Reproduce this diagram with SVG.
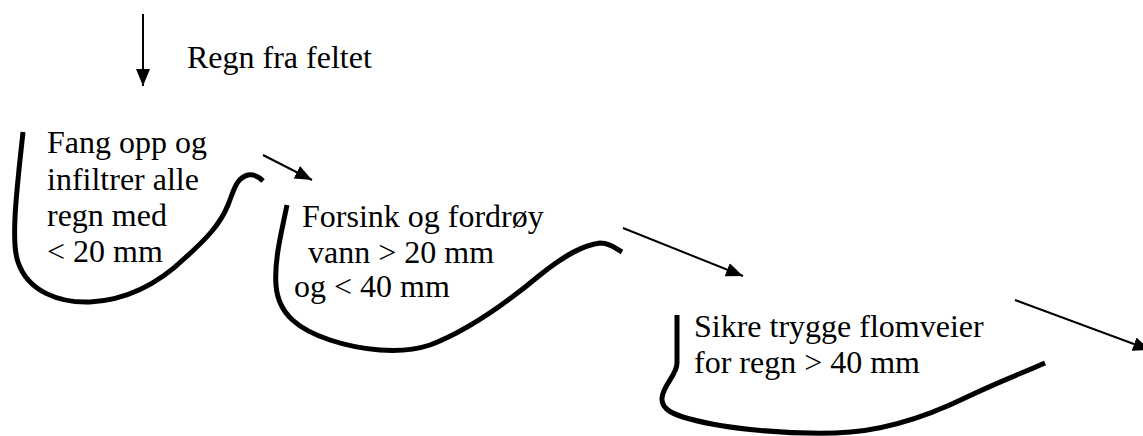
<svg xmlns="http://www.w3.org/2000/svg" width="1143" height="436" viewBox="0 0 1143 436">
<style>
text{font-family:'Liberation Serif','Times New Roman',serif;font-size:32px;fill:#000}
.curve{fill:none;stroke:#000;stroke-width:5;stroke-linecap:butt;stroke-linejoin:round}
.arrow{fill:none;stroke:#000;stroke-width:2}
</style>
<defs>
<marker id="ah" markerUnits="userSpaceOnUse" markerWidth="17" markerHeight="14" refX="17" refY="7" orient="auto">
<path d="M0,0 L17,7 L0,14 z" fill="#000"/>
</marker>
</defs>
<rect width="1143" height="436" fill="#fff"/>
<g id="connectors">
<line class="arrow" x1="143" y1="14" x2="143" y2="86" marker-end="url(#ah)"/>
<line class="arrow" x1="263" y1="155" x2="312" y2="180" marker-end="url(#ah)"/>
<line class="arrow" x1="623" y1="228" x2="743" y2="276" marker-end="url(#ah)"/>
<line class="arrow" x1="1015" y1="300" x2="1150" y2="350" marker-end="url(#ah)"/>
</g>
<g id="rain">
<text x="187" y="68">Regn fra feltet</text>
</g>
<g id="node1">
<path class="curve" d="M23,132 C18,180 10,240 18,262 C28,292 60,303 90,302 C130,300 160,282 185,258 C205,240 220,225 228,205 C234,190 236,178 248,175 C255,174 259,177 263,181"/>
<text x="47" y="153">Fang opp og</text>
<text x="47" y="190">infiltrer alle</text>
<text x="47" y="226">regn med</text>
<text x="47" y="262">&lt; 20 mm</text>
</g>
<g id="node2">
<path class="curve" d="M287,205 C282,230 274,260 276,285 C278,315 300,330 330,340 C360,350 400,355 430,345 C470,330 510,300 540,275 C565,255 583,245 600,243 C610,243 615,248 622,252"/>
<text x="302" y="227">Forsink og fordrøy</text>
<text x="300" y="263" xml:space="preserve"> vann &gt; 20 mm</text>
<text x="294" y="297">og &lt; 40 mm</text>
</g>
<g id="node3">
<path class="curve" d="M677,315 L677,363 C677,375 663,385 662,398 C661,410 675,415 690,419 C730,430 790,434 835,433 C875,432 920,420 967,397 C1000,381 1025,372 1045,363"/>
<text x="694" y="337">Sikre trygge flomveier</text>
<text x="694" y="373">for regn &gt; 40 mm</text>
</g>
</svg>
